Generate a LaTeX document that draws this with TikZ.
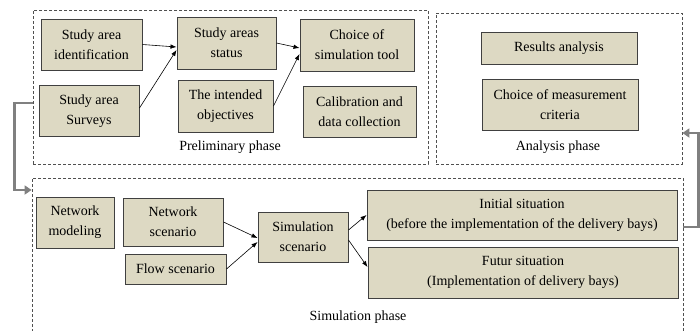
\documentclass[tikz,border=0pt]{standalone}
\usepackage{fontspec}
\setmainfont{Liberation Serif}
\usetikzlibrary{shapes,arrows.meta,positioning}
\definecolor{boxfill}{HTML}{DDD9C3}
\definecolor{framegray}{HTML}{505050}
\definecolor{backgray}{HTML}{808080}

\begin{document}
\begin{tikzpicture}[x=1pt, y=-1pt,
                   every node/.style={font=\fontsize{14}{20}\selectfont},
                   stage/.style={draw=black!75, fill=boxfill, line width=1pt, align=center, inner sep=0pt},
                   phase/.style={draw=framegray, densely dashed, line width=0.8pt, minimum width=#1, inner sep=0pt},
                   link/.style={-{Latex[length=6pt,width=4.5pt]}, line width=0.6pt},
                   feedback/.style={-{Triangle[length=7pt,width=9pt]}, draw=backgray, line width=2.5pt}]
          \useasboundingbox (0,0) rectangle (700,330);
          % phases
          \node[phase=395pt, minimum height=154pt] (prelim) at (230.5,87) {};
          \node[phase=246pt, minimum height=151pt] (analysis) at (559,88.5) {};
          \node[phase=651pt, minimum height=172pt] (simphase) at (357.5,264) {};
          \node (prelimlabel) at (230,147) {Preliminary phase};
          \node (analysislabel) at (558,147) {Analysis phase};
          \node (simlabel) at (358,317) {Simulation phase};
          % preliminary phase
          \node[stage, minimum width=101pt, minimum height=51pt] (ident) at (91.5,44.5) {Study area\\identification};
          \node[stage, minimum width=100pt, minimum height=51pt] (surveys) at (89,111) {Study area\\Surveys};
          \node[stage, minimum width=99pt, minimum height=52pt] (status) at (226.5,43) {Study areas\\status};
          \node[stage, minimum width=95pt, minimum height=52pt] (objectives) at (225.5,106) {The intended\\objectives};
          \node[stage, minimum width=114pt, minimum height=52pt] (choice) at (357,45) {Choice of\\simulation tool};
          \node[stage, minimum width=113pt, minimum height=51pt] (calib) at (359.5,111.5) {Calibration and\\data collection};
          % analysis phase
          \node[stage, minimum width=156pt, minimum height=32pt] (results) at (559,48) {Results analysis};
          \node[stage, minimum width=156pt, minimum height=51pt] (criteria) at (560,104.5) {Choice of measurement\\criteria};
          % simulation phase
          \node[stage, minimum width=78pt, minimum height=51pt] (netmodel) at (75,222.5) {Network\\modeling};
          \node[stage, minimum width=100pt, minimum height=48pt] (netscen) at (173,222) {Network\\scenario};
          \node[stage, minimum width=101pt, minimum height=30pt] (flow) at (175.5,269) {Flow scenario};
          \node[stage, minimum width=90pt, minimum height=50pt] (simscen) at (303,237) {Simulation\\scenario};
          \node[stage, minimum width=310pt, minimum height=50pt] (initial) at (522,215) {Initial situation\\(before the implementation of the delivery bays)};
          \node[stage, minimum width=310pt, minimum height=51pt] (futur) at (523,272.5) {Futur situation\\(Implementation of delivery bays)};
          % arrows
          \draw[link] (ident.east) -- ([yshift=-4pt]status.west);
          \draw[link] ([yshift=3pt]surveys.east) -- ([yshift=-7pt]status.west);
          \draw[link] (status.east) -- ([yshift=-3pt]choice.west);
          \draw[link] (objectives.east) -- ([yshift=-9pt]choice.west);
          \draw[link] (netscen.east) -- ([yshift=-1pt]simscen.west);
          \draw[link] (flow.east) -- ([yshift=-5pt]simscen.west);
          \draw[link] ([yshift=7pt]simscen.east) -- (initial.west);
          \draw[link] ([yshift=-3pt]simscen.east) -- ([yshift=5.5pt]futur.west);
          \draw[feedback] ([yshift=-16pt]prelim.west) -- ++(-18,0) |- ([yshift=74pt]simphase.west);
          \draw[feedback] ([yshift=37pt]simphase.east) -- ++(15,0) |- ([yshift=-44.5pt]analysis.east);
        \end{tikzpicture}
\end{document}
